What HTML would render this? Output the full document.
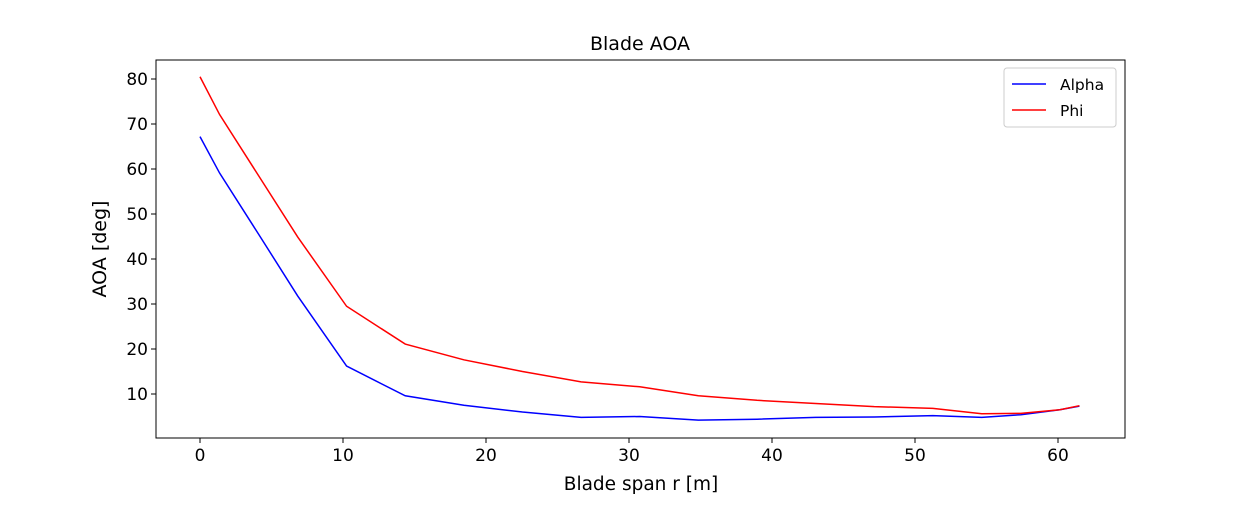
<!DOCTYPE html>
<html><head><meta charset="utf-8"><style>
body{margin:0;background:#fff;font-family:"Liberation Sans","DejaVu Sans",sans-serif}
</style></head><body>
<svg width="1250" height="500" xmlns="http://www.w3.org/2000/svg" font-family="DejaVu Sans, Liberation Sans, sans-serif">
<g id="plot"></g>
</svg>
<script>
const rSpan=[0,1.37,4.1,6.83,10.25,14.35,18.45,22.55,26.65,30.75,34.85,38.95,43.05,47.15,51.25,54.67,57.4,60.13,61.5];
const alpha=[67.2,59.1,45.5,31.8,16.2,9.6,7.5,6.0,4.8,5.0,4.2,4.4,4.8,4.9,5.2,4.8,5.4,6.5,7.3];
const phi=[80.5,72.1,58.5,44.9,29.5,21.1,17.6,15.0,12.7,11.6,9.6,8.6,7.9,7.2,6.8,5.6,5.7,6.5,7.4];
const xTicks=[0,10,20,30,40,50,60];
const yTicks=[10,20,30,40,50,60,70,80];
const L=156,R=1125,T=60,B=438;
const X=v=>200+v*14.3, Y=v=>394-(v-10)*4.5;
const g=document.getElementById('plot');const NS='http://www.w3.org/2000/svg';
function el(t,a,txt){const e=document.createElementNS(NS,t);for(const k in a)e.setAttribute(k,a[k]);if(txt!==undefined)e.textContent=txt;g.appendChild(e);return e;}
xTicks.forEach(v=>{el('line',{x1:X(v),x2:X(v),y1:B,y2:B+5,stroke:'#000'});
const t=el('text',{x:X(v),y:B+23,'font-size':'17','text-anchor':'middle'},v);
});
yTicks.forEach(v=>{el('line',{x1:L-5,x2:L,y1:Y(v),y2:Y(v),stroke:'#000'});
const t=el('text',{x:L-8,y:Y(v)+6,'font-size':'17','text-anchor':'end'},v);
});
function series(d,c,n){const p=el('polyline',{points:rSpan.map((r,i)=>X(r)+','+Y(d[i])).join(' '),fill:'none',stroke:c,'stroke-width':1.5});
}
series(alpha,'#0000ff','alpha-line');series(phi,'#ff0000','phi-line');
const fr=el('rect',{x:L,y:T,width:R-L,height:B-T,fill:'none',stroke:'#000'});

let t=el('text',{x:640,y:50,'font-size':'19','text-anchor':'middle'},'Blade AOA');

t=el('text',{x:641,y:490,'font-size':'18.5','text-anchor':'middle'},'Blade span r [m]');

t=el('text',{x:106,y:249,'font-size':'19','text-anchor':'middle',transform:'rotate(-90 106 249)'},'AOA [deg]');

const lg=el('rect',{x:1004,y:68,width:112,height:59,rx:3,fill:'#fff',stroke:'#ccc'});

el('line',{x1:1012,x2:1046,y1:84,y2:84,stroke:'#0000ff','stroke-width':1.5});
t=el('text',{x:1060,y:90,'font-size':'15.5'},'Alpha');
el('line',{x1:1012,x2:1046,y1:110,y2:110,stroke:'#ff0000','stroke-width':1.5});
t=el('text',{x:1060,y:116,'font-size':'15.5'},'Phi');
</script>
</body></html>
